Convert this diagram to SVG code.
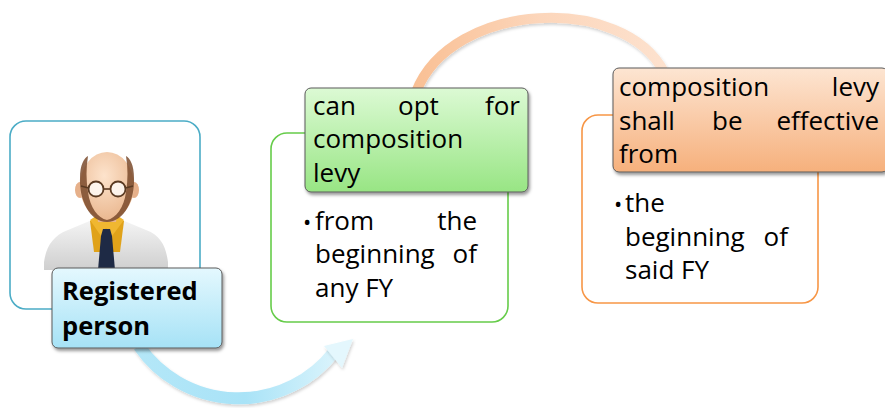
<svg xmlns="http://www.w3.org/2000/svg" width="885" height="408" viewBox="0 0 885 408">
  <defs>
    <style>
      .frame { fill: #ffffff; stroke-width: 1.6; }
      .label { stroke: #5a5a5a; stroke-width: 1; filter: url(#shadow); }
      .txt { font-family: "Open Sans", "Noto Sans", sans-serif; font-size: 26px; fill: #000000; }
      .bold { font-weight: bold; font-size: 25.5px; }
      .bullet { font-size: 22px; }
    </style>
    <filter id="shadow" x="-10%" y="-10%" width="125%" height="130%">
      <feDropShadow dx="1.5" dy="2.5" stdDeviation="1.8" flood-color="#000000" flood-opacity="0.4"/>
    </filter>
    <filter id="softShadow" x="-10%" y="-20%" width="120%" height="140%">
      <feDropShadow dx="1" dy="2" stdDeviation="1.5" flood-color="#000000" flood-opacity="0.18"/>
    </filter>
    <linearGradient id="blueFill" x1="0" y1="0" x2="0" y2="1">
      <stop offset="0" stop-color="#e4f8fe"/>
      <stop offset="1" stop-color="#a6e2f6"/>
    </linearGradient>
    <linearGradient id="greenFill" x1="0" y1="0" x2="0" y2="1">
      <stop offset="0" stop-color="#dcfad4"/>
      <stop offset="1" stop-color="#98e584"/>
    </linearGradient>
    <linearGradient id="orangeFill" x1="0" y1="0" x2="0" y2="1">
      <stop offset="0" stop-color="#fde5d2"/>
      <stop offset="1" stop-color="#f6b07c"/>
    </linearGradient>
    <linearGradient id="blueArc" x1="135" y1="0" x2="355" y2="0" gradientUnits="userSpaceOnUse">
      <stop offset="0" stop-color="#b4e7f8"/>
      <stop offset="0.5" stop-color="#a9e3f7"/>
      <stop offset="1" stop-color="#e4f7fd"/>
    </linearGradient>
    <linearGradient id="peachArc" x1="410" y1="0" x2="670" y2="0" gradientUnits="userSpaceOnUse">
      <stop offset="0" stop-color="#f9bf93"/>
      <stop offset="0.5" stop-color="#fcd6bb"/>
      <stop offset="1" stop-color="#fde2cf"/>
    </linearGradient>
    <linearGradient id="coat" x1="0" y1="0" x2="0" y2="1">
      <stop offset="0" stop-color="#f4f4f4"/>
      <stop offset="1" stop-color="#cfcfcf"/>
    </linearGradient>
    <radialGradient id="skin" cx="0.45" cy="0.35" r="0.7">
      <stop offset="0" stop-color="#fde3cc"/>
      <stop offset="1" stop-color="#e9b58c"/>
    </radialGradient>
  </defs>

  <!-- connectors -->
  <g id="connectors">
    <path d="M139 346 A 120 118 0 0 0 334 352" fill="none" stroke="url(#blueArc)" stroke-width="12" filter="url(#softShadow)"/>
    <polygon points="353,339 324,346 342,368" fill="#e4f7fd" filter="url(#softShadow)"/>
    <path d="M416 92 C 452 0, 624 -6, 664 72" fill="none" stroke="url(#peachArc)" stroke-width="10" filter="url(#softShadow)"/>
  </g>

  <!-- Registered person -->
  <g id="node-registered">
    <rect class="frame" x="10" y="121" width="190" height="188" rx="16" stroke="#4bacc6"/>
    <g id="person-icon">
      <!-- coat -->
      <path d="M44 262 C 46 248, 52 236, 68 230 L 92 220 L 122 220 L 146 230 C 162 236, 166 248, 168 262 L 168 270 L 44 270 Z" fill="url(#coat)"/>
      <!-- shirt -->
      <path d="M90 221 L 124 221 L 120 252 L 94 252 Z" fill="#e0a21a"/>
      <!-- collar -->
      <path d="M90 220 L 101 236 L 106 228 L 112 236 L 124 220 L 118 216 L 96 216 Z" fill="#f0b731"/>
      <!-- tie -->
      <path d="M103 229 L 110 229 L 112 236 L 115 270 L 98 270 L 101 236 Z" fill="#1e2a45"/>
      <!-- neck -->
      <path d="M96 208 L 118 208 L 116 222 L 98 222 Z" fill="#e9b58c"/>
      <!-- ears -->
      <ellipse cx="80" cy="190" rx="5" ry="8" fill="#e6b08a"/>
      <ellipse cx="134" cy="190" rx="5" ry="8" fill="#e6b08a"/>
      <!-- head -->
      <ellipse cx="107" cy="186" rx="27" ry="34" fill="url(#skin)"/>
      <!-- side hair and stubble -->
      <path d="M80 178 C 80 165, 84 158, 88 156 C 86 168, 86 180, 88 192 C 90 208, 98 218, 107 220 C 116 218, 124 208, 126 192 C 128 180, 128 168, 126 156 C 130 158, 134 165, 134 178 C 135 200, 124 222, 107 222 C 90 222, 79 200, 80 178 Z" fill="#7a4a2c" opacity="0.85"/>
      <!-- glasses -->
      <circle cx="96" cy="189" r="7.5" fill="#ffffff" fill-opacity="0.75" stroke="#5a3a22" stroke-width="1.8"/>
      <circle cx="118" cy="189" r="7.5" fill="#ffffff" fill-opacity="0.75" stroke="#5a3a22" stroke-width="1.8"/>
      <line x1="103.5" y1="189" x2="110.5" y2="189" stroke="#5a3a22" stroke-width="1.6"/>
      <line x1="88.5" y1="188" x2="81" y2="186" stroke="#5a3a22" stroke-width="1.4"/>
      <line x1="125.5" y1="188" x2="133" y2="186" stroke="#5a3a22" stroke-width="1.4"/>
    </g>
    <rect class="label" x="52" y="268" width="170" height="80" rx="6" fill="url(#blueFill)"/>
    <text class="txt bold" x="62" y="300">Registered</text>
    <text class="txt bold" x="62" y="335">person</text>
  </g>

  <!-- can opt for composition levy -->
  <g id="node-opt">
    <rect class="frame" x="271" y="133" width="237" height="189" rx="16" stroke="#66cc4a"/>
    <rect class="label" x="305" y="88" width="223" height="104" rx="6" fill="url(#greenFill)"/>
    <text class="txt" y="115"><tspan x="313">can</tspan><tspan x="398">opt</tspan><tspan x="520" text-anchor="end">for</tspan></text>
    <text class="txt" x="313" y="148">composition</text>
    <text class="txt" x="313" y="182">levy</text>
    <text class="txt" y="230"><tspan class="bullet" x="303">•</tspan><tspan x="315">from</tspan><tspan x="477" text-anchor="end">the</tspan></text>
    <text class="txt" y="263"><tspan x="315">beginning</tspan><tspan x="477" text-anchor="end">of</tspan></text>
    <text class="txt" x="315" y="297">any FY</text>
  </g>

  <!-- composition levy shall be effective from -->
  <g id="node-effective">
    <rect class="frame" x="582" y="115" width="236" height="188" rx="16" stroke="#f79646"/>
    <rect class="label" x="613" y="68" width="275" height="104" rx="6" fill="url(#orangeFill)"/>
    <text class="txt" y="96"><tspan x="619">composition</tspan><tspan x="879" text-anchor="end">levy</tspan></text>
    <text class="txt" y="130"><tspan x="619">shall</tspan><tspan x="712">be</tspan><tspan x="879" text-anchor="end">effective</tspan></text>
    <text class="txt" x="619" y="163">from</text>
    <text class="txt" y="212"><tspan class="bullet" x="614">•</tspan><tspan x="625">the</tspan></text>
    <text class="txt" y="246"><tspan x="625">beginning</tspan><tspan x="788" text-anchor="end">of</tspan></text>
    <text class="txt" x="625" y="279">said FY</text>
  </g>
</svg>
